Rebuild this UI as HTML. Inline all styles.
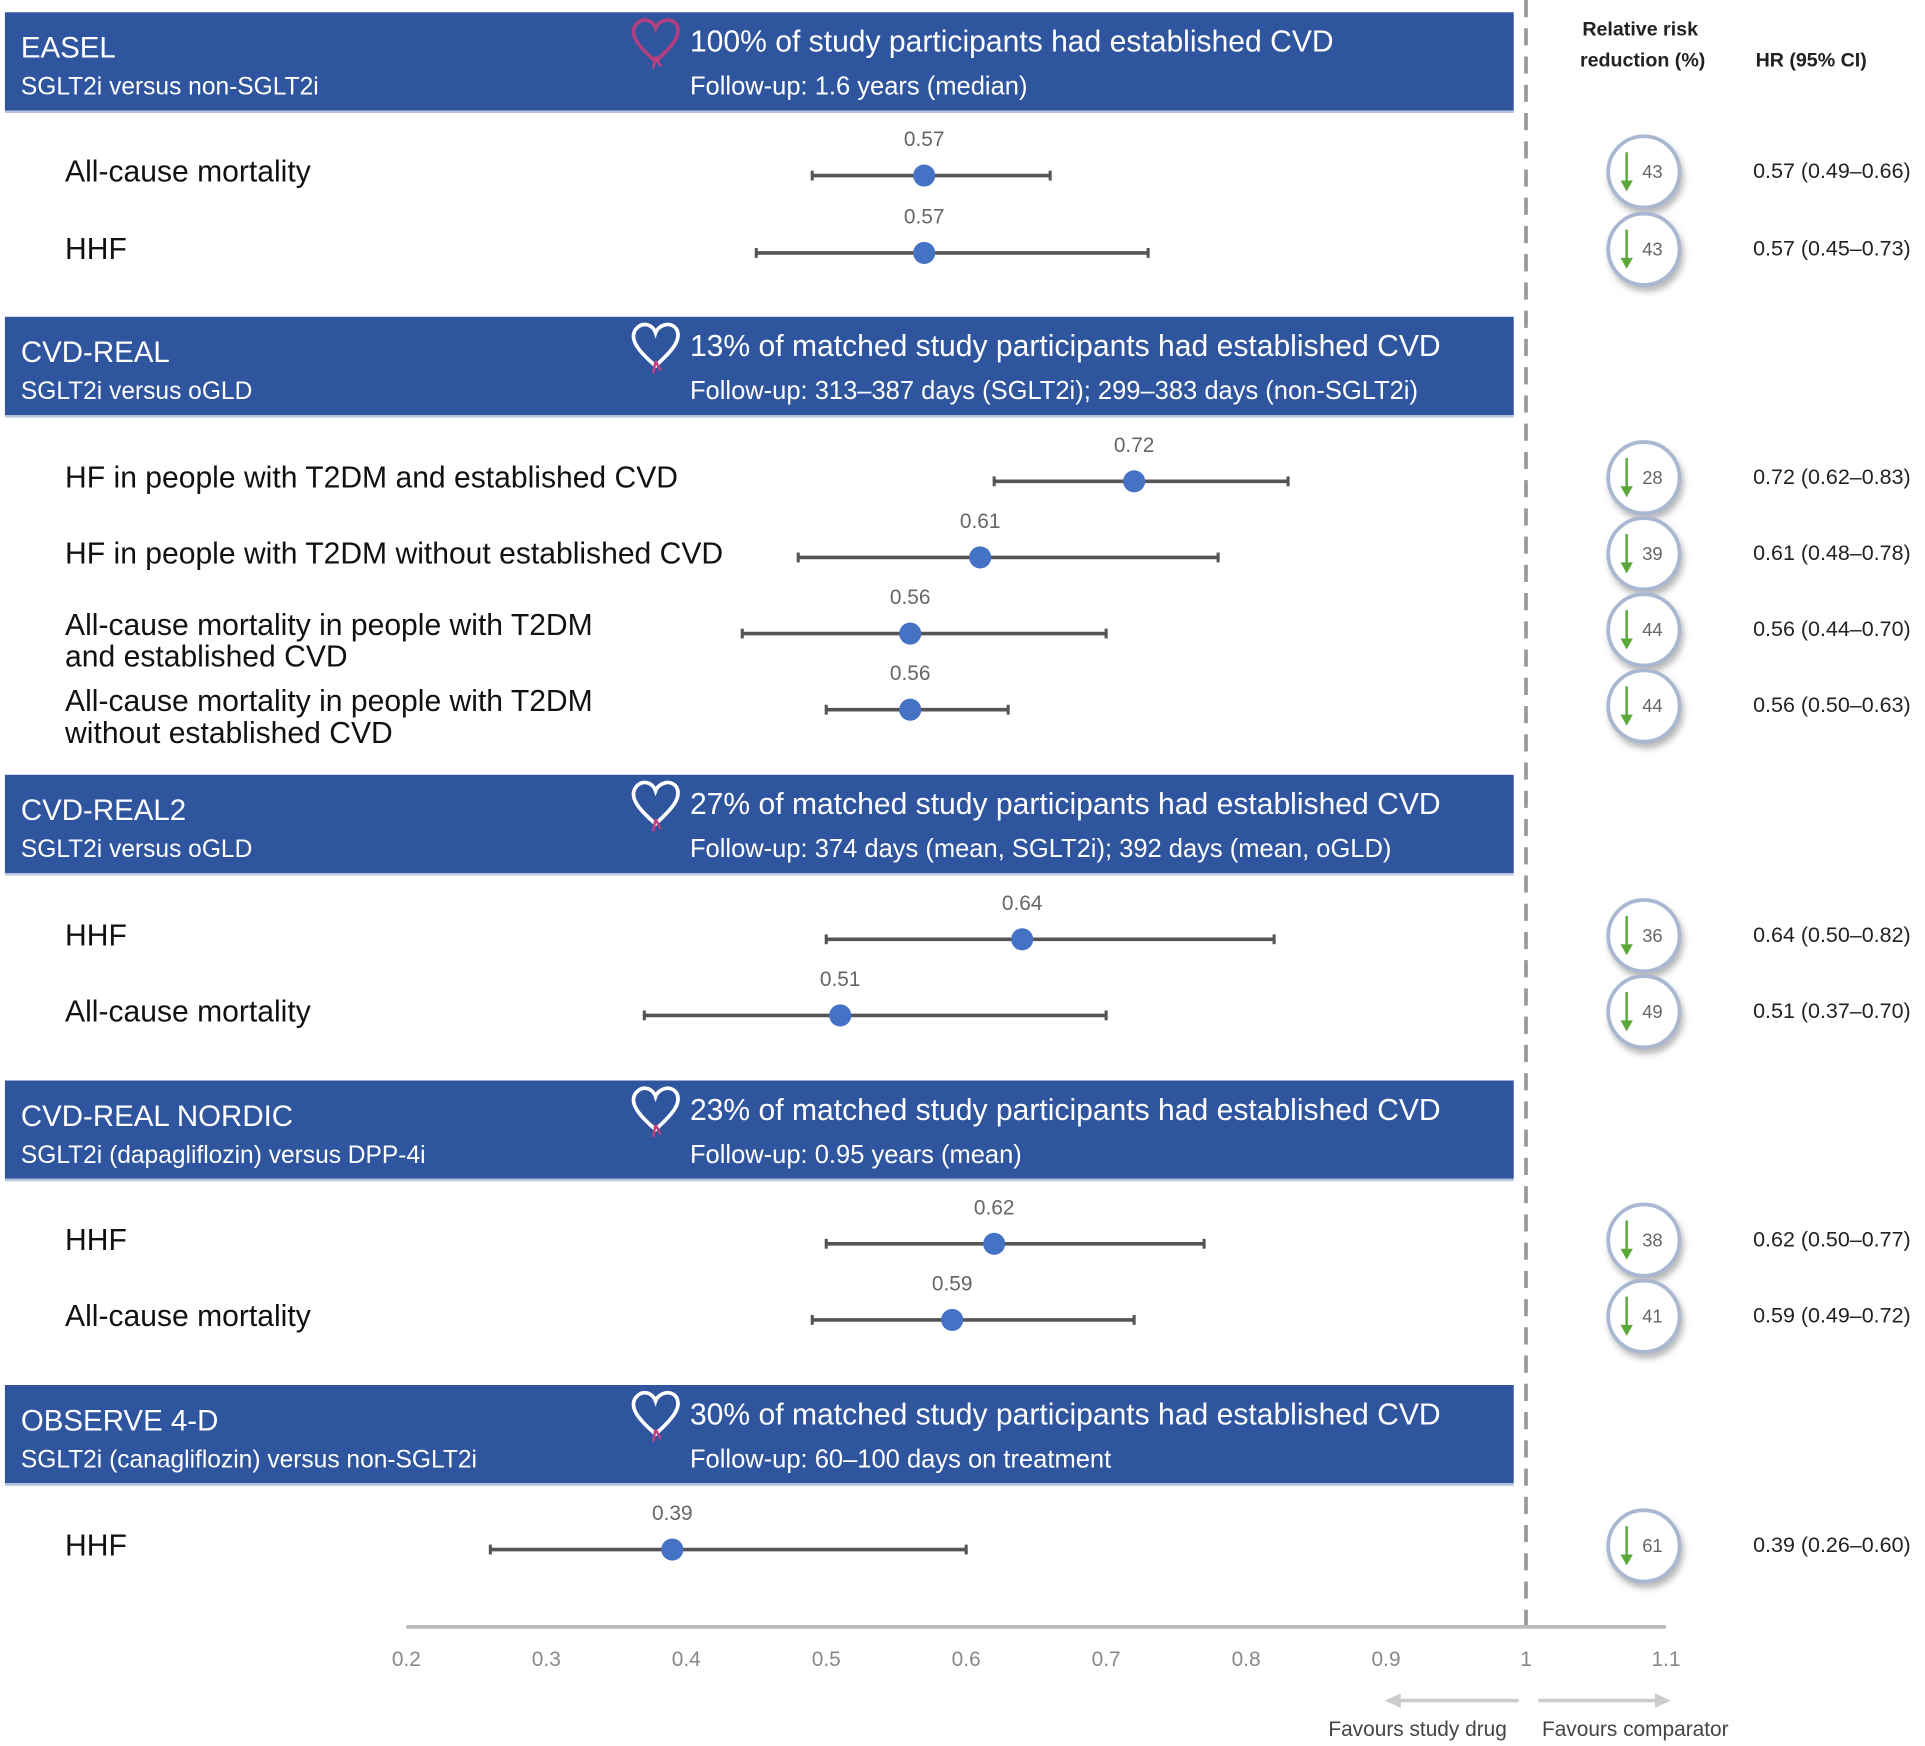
<!DOCTYPE html>
<html><head><meta charset="utf-8"><style>
html,body{margin:0;padding:0;background:#fff;width:1925px;height:1746px;overflow:hidden}
svg{display:block;font-family:"Liberation Sans",sans-serif}
</style></head><body>
<svg id="chart" width="1925" height="1746" viewBox="0 0 1568 1422" preserveAspectRatio="none" xmlns="http://www.w3.org/2000/svg"></svg>
<script>
const studyNames = ["EASEL","CVD-REAL","CVD-REAL2","CVD-REAL NORDIC","OBSERVE 4-D"];
const studySubs = ["SGLT2i versus non-SGLT2i","SGLT2i versus oGLD","SGLT2i versus oGLD","SGLT2i (dapagliflozin)  versus DPP-4i","SGLT2i (canagliflozin)  versus non-SGLT2i"];
const studyPct = ["100% of study participants had established CVD","13% of matched study participants had established CVD","27% of matched study participants had established CVD","23% of matched study participants had established CVD","30% of matched study participants had established CVD"];
const studyFollow = ["Follow-up: 1.6 years (median)","Follow-up: 313–387 days (SGLT2i); 299–383 days (non-SGLT2i)","Follow-up: 374 days (mean, SGLT2i); 392 days (mean, oGLD)","Follow-up: 0.95 years (mean)","Follow-up: 60–100 days on treatment"];
const outcomeStudy = [0,0,1,1,1,1,2,2,3,3,4];
const outcomeLabels = [["All-cause mortality"],["HHF"],["HF in people with T2DM and established CVD"],["HF in people with T2DM without established CVD"],["All-cause mortality in people with T2DM","and established CVD"],["All-cause mortality in people with T2DM","without established CVD"],["HHF"],["All-cause mortality"],["HHF"],["All-cause mortality"],["HHF"]];
const hrValues = [0.57,0.57,0.72,0.61,0.56,0.56,0.64,0.51,0.62,0.59,0.39];
const ciLow = [0.49,0.45,0.62,0.48,0.44,0.50,0.50,0.37,0.50,0.49,0.26];
const ciHigh = [0.66,0.73,0.83,0.78,0.70,0.63,0.82,0.70,0.77,0.72,0.60];
const rrrValues = [43,43,28,39,44,44,36,49,38,41,61];
const tickValues = [0.2,0.3,0.4,0.5,0.6,0.7,0.8,0.9,1,1.1];
const tickLabels = ["0.2","0.3","0.4","0.5","0.6","0.7","0.8","0.9","1","1.1"];

const NS="http://www.w3.org/2000/svg";
const svg=document.getElementById('chart');
const X0=331, XS=1140;
function xs(v){return X0+(v-0.2)*XS;}
const headerY=[10,258,631,880,1128];
const rowY=[143,206,392,454,516,578,765,827,1013,1075,1262];
function el(tag,attrs,parent){const e=document.createElementNS(NS,tag);for(const k in attrs)e.setAttribute(k,attrs[k]);(parent||svg).appendChild(e);return e;}
function txt(s,attrs,parent){const e=el('text',attrs,parent);e.textContent=s;return e;}
function fmt(v){return v.toFixed(2);}

const defs=el('defs',{});
const f=el('filter',{id:'sh',x:'-30%',y:'-30%',width:'160%',height:'160%'},defs);
el('feDropShadow',{dx:'2',dy:'4',stdDeviation:'2.5','flood-color':'#888','flood-opacity':'0.6'},f);

const ref=el('line',{x1:xs(1),y1:0,x2:xs(1),y2:1325,stroke:'#999','stroke-width':3,'stroke-dasharray':'14,9'});



studyNames.forEach((n,i)=>{
  const g=el('g',{});
  
  
  const y=headerY[i];
  el('rect',{x:4,y:y,width:1229,height:80,fill:'#2F559E'},g);
  el('line',{x1:4,y1:y+81,x2:1233,y2:y+81,stroke:'#b8c4de','stroke-width':2},g);
  txt(n,{x:17,y:y+37,fill:'#fff','font-size':24},g);
  txt(studySubs[i],{x:17,y:y+67,fill:'#fff','font-size':20},g);
  txt(studyPct[i],{x:562,y:y+32,fill:'#fff','font-size':24.5},g);
  txt(studyFollow[i],{x:562,y:y+67,fill:'#fff','font-size':20.8},g);
  const hc=i===0?'#b0407f':'#fff';
  const h=el('path',{d:`M534 ${y+40} C520 ${y+28} 512 ${y+18} 518 ${y+10} C524 ${y+3} 532 ${y+7} 534 ${y+13} C536 ${y+7} 546 ${y+3} 551 ${y+10} C556 ${y+19} 546 ${y+29} 534 ${y+40} Z`,fill:'none',stroke:hc,'stroke-width':3},g);
  
  
  el('path',{d:`M534 ${y+36} L532 ${y+46} M534 ${y+36} L538 ${y+44}`,stroke:'#c0407f','stroke-width':2},g);
});

const ch=el('g',{'font-size':16,'font-weight':'bold',fill:'#222'});


txt('Relative risk',{x:1336,y:29,'text-anchor':'middle'},ch);
txt('reduction (%)',{x:1338,y:54,'text-anchor':'middle'},ch);
txt('HR (95% CI)',{x:1430,y:54},ch);

hrValues.forEach((v,i)=>{
  const y=rowY[i];
  const g=el('g',{});
  
  
  const lines=outcomeLabels[i];
  if(lines.length===1){txt(lines[0],{x:53,y:y+5,'font-size':24.5,fill:'#111'},g);}
  else{txt(lines[0],{x:53,y:y+1,'font-size':24.5,fill:'#111'},g);txt(lines[1],{x:53,y:y+27,'font-size':24.5,fill:'#111'},g);}
  const ci=el('line',{x1:xs(ciLow[i]),y1:y,x2:xs(ciHigh[i]),y2:y,stroke:'#555','stroke-width':3},g);
  
  
  el('line',{x1:xs(ciLow[i]),y1:y-4,x2:xs(ciLow[i]),y2:y+4,stroke:'#555','stroke-width':2.5},g);
  el('line',{x1:xs(ciHigh[i]),y1:y-4,x2:xs(ciHigh[i]),y2:y+4,stroke:'#555','stroke-width':2.5},g);
  const pt=el('circle',{cx:xs(v),cy:y,r:9,fill:'#4472C4'},g);
  
  
  txt(fmt(v),{x:xs(v),y:y-24,'text-anchor':'middle','font-size':17,fill:'#666'},g);
  const cg=el('g',{},g);
  
  
  el('circle',{cx:1339,cy:y-3,r:29,fill:'#fff',stroke:'#a9b8d0','stroke-width':3,filter:'url(#sh)'},cg);
  el('line',{x1:1325,y1:y-19,x2:1325,y2:y+8,stroke:'#5aa83a','stroke-width':2},cg);
  el('path',{d:`M1320 ${y+4} L1330 ${y+4} L1325 ${y+13} Z`,fill:'#5aa83a'},cg);
  txt(String(rrrValues[i]),{x:1346,y:y+2,'text-anchor':'middle','font-size':15,fill:'#666'},cg);
  txt(`${fmt(v)} (${fmt(ciLow[i])}–${fmt(ciHigh[i])})`,{x:1428,y:y+2,'font-size':17.5,fill:'#222'},g);
});

const ax=el('g',{});


el('line',{x1:xs(0.2),y1:1325,x2:xs(1.1),y2:1325,stroke:'#bbb','stroke-width':3},ax);
tickValues.forEach((t,i)=>{
  const tl=txt(tickLabels[i],{x:xs(t),y:1357,'text-anchor':'middle','font-size':17,fill:'#888'},ax);
  
  
});
const fav=el('g',{});


el('line',{x1:1237,y1:1385,x2:1138,y2:1385,stroke:'#ccc','stroke-width':3},fav);
el('path',{d:'M1128 1385 L1141 1379 L1141 1391 Z',fill:'#ccc'},fav);
el('line',{x1:1253,y1:1385,x2:1350,y2:1385,stroke:'#ccc','stroke-width':3},fav);
el('path',{d:'M1361 1385 L1348 1379 L1348 1391 Z',fill:'#ccc'},fav);
txt('Favours study drug',{x:1082,y:1414,'font-size':17,fill:'#444'},fav);
txt('Favours comparator',{x:1256,y:1414,'font-size':17,fill:'#444'},fav);
</script>
</body></html>
